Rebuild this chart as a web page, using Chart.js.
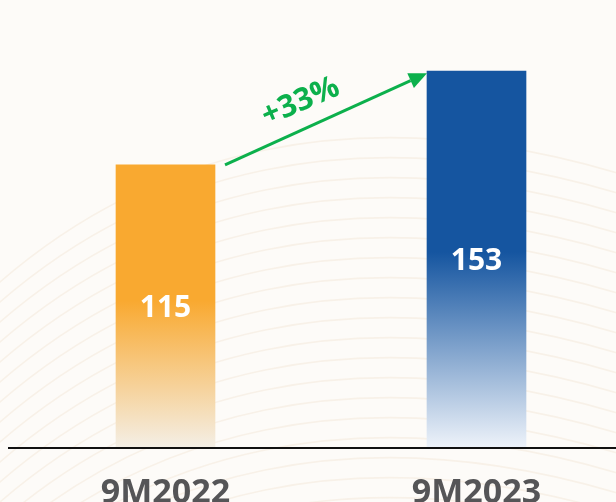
<!DOCTYPE html>
<html>
<head>
<meta charset="utf-8">
<script src="https://cdn.jsdelivr.net/npm/chart.js@4/dist/chart.umd.min.js"></script>
<style>
  html, body { margin: 0; padding: 0; background: #fdfbf8; }
  #wrap { width: 616px; height: 502px; position: relative; }
</style>
</head>
<body>
<div id="wrap"><canvas id="chart"></canvas></div>
<script>
// data
const periods = ["9M2022", "9M2023"];
const values = [115, 153];
const barColors = ["#f9a930", "#1555a0"];
const fadeColors = ["#f4efe6", "#eef3fa"];
const yMax = 180;

const growth = Math.round((values[1] / values[0] - 1) * 100);
const FONT = "'Open Sans', 'DejaVu Sans', sans-serif";

function barGradient(ctx) {
    const chart = ctx.chart;
    if (!chart.chartArea) return barColors[ctx.dataIndex];
    const y = chart.scales.y;
    const base = y.getPixelForValue(0);
    const top = y.getPixelForValue(values[ctx.dataIndex]);
    const g = chart.ctx.createLinearGradient(0, base, 0, top);
    g.addColorStop(0, fadeColors[ctx.dataIndex]);
    g.addColorStop(0.52, barColors[ctx.dataIndex]);
    g.addColorStop(1, barColors[ctx.dataIndex]);
    return g;
}

// faint wavy background
const backdrop = {
    id: "backdrop",
    beforeDraw(chart) {
        const c = chart.ctx;
        const w = chart.width, h = chart.height;
        c.save();
        c.fillStyle = "#fdfbf8";
        c.fillRect(0, 0, w, h);
        c.strokeStyle = "rgba(228, 205, 170, 0.2)";
        c.lineWidth = 1.6;
        for (let i = 0; i < 20; i++) {
            const y0 = 160 + i * 20;
            c.beginPath();
            c.moveTo(-20, y0 + 140);
            c.bezierCurveTo(140, y0 - 10, 360, y0 - 70, 640, y0 + 20);
            c.stroke();
        }
        c.restore();
    }
};

// baseline, value labels, growth arrow
const overlay = {
    id: "overlay",
    afterDatasetsDraw(chart) {
        const c = chart.ctx;
        const meta = chart.getDatasetMeta(0);
        const base = chart.scales.y.getPixelForValue(0);

        c.save();
        c.strokeStyle = "#111111";
        c.lineWidth = 2.2;
        c.beginPath();
        c.moveTo(8, base);
        c.lineTo(chart.width, base);
        c.stroke();

        c.fillStyle = "#ffffff";
        c.font = "bold 30px " + FONT;
        c.textAlign = "center";
        c.textBaseline = "middle";
        meta.data.forEach((bar, i) => {
            c.fillText(String(values[i]), bar.x, (bar.y + bar.base) / 2 + 2);
        });

        const b1 = meta.data[0], b2 = meta.data[1];
        const x1 = b1.x + b1.width / 2 + 10, y1 = b1.y;
        const x2 = b2.x - b2.width / 2, y2 = b2.y + 2;
        const ang = Math.atan2(y2 - y1, x2 - x1);
        const head = 18, half = 8;
        const green = "#0cb04c";
        c.strokeStyle = green;
        c.fillStyle = green;
        c.lineWidth = 3;
        c.beginPath();
        c.moveTo(x1, y1);
        c.lineTo(x2 - head * Math.cos(ang), y2 - head * Math.sin(ang));
        c.stroke();
        c.beginPath();
        c.moveTo(x2, y2);
        c.lineTo(x2 - head * Math.cos(ang) + half * Math.sin(ang), y2 - head * Math.sin(ang) - half * Math.cos(ang));
        c.lineTo(x2 - head * Math.cos(ang) - half * Math.sin(ang), y2 - head * Math.sin(ang) + half * Math.cos(ang));
        c.closePath();
        c.fill();

        const mx = (x1 + x2) / 2, my = (y1 + y2) / 2;
        const tx = mx - 16 * Math.cos(ang) + 26 * Math.sin(ang);
        const ty = my - 16 * Math.sin(ang) - 26 * Math.cos(ang);
        c.translate(tx, ty);
        c.rotate(-23 * Math.PI / 180);
        c.font = "bold 31px " + FONT;
        c.fillText("+" + growth + "%", 0, 0);
        c.restore();
    }
};

new Chart(document.getElementById("chart"), {
    type: "bar",
    data: {
        labels: periods,
        datasets: [{
            data: values,
            backgroundColor: barGradient,
            borderWidth: 0,
            barThickness: 99,
            clip: false
        }]
    },
    options: {
        responsive: true,
        maintainAspectRatio: false,
        animation: false,
        layout: { padding: { left: 165.5, right: 139.5, top: 4.7, bottom: 0 } },
        plugins: { legend: { display: false }, tooltip: { enabled: false } },
        scales: {
            x: {
                offset: false,
                grid: { display: false },
                border: { display: false },
                ticks: {
                    color: "#555557",
                    padding: 17,
                    font: { family: FONT, size: 34, weight: "bold" }
                },
                afterFit(scale) { scale.height = 54; }
            },
            y: {
                display: false,
                min: 0,
                max: yMax
            }
        }
    },
    plugins: [backdrop, overlay]
});
</script>
</body>
</html>
